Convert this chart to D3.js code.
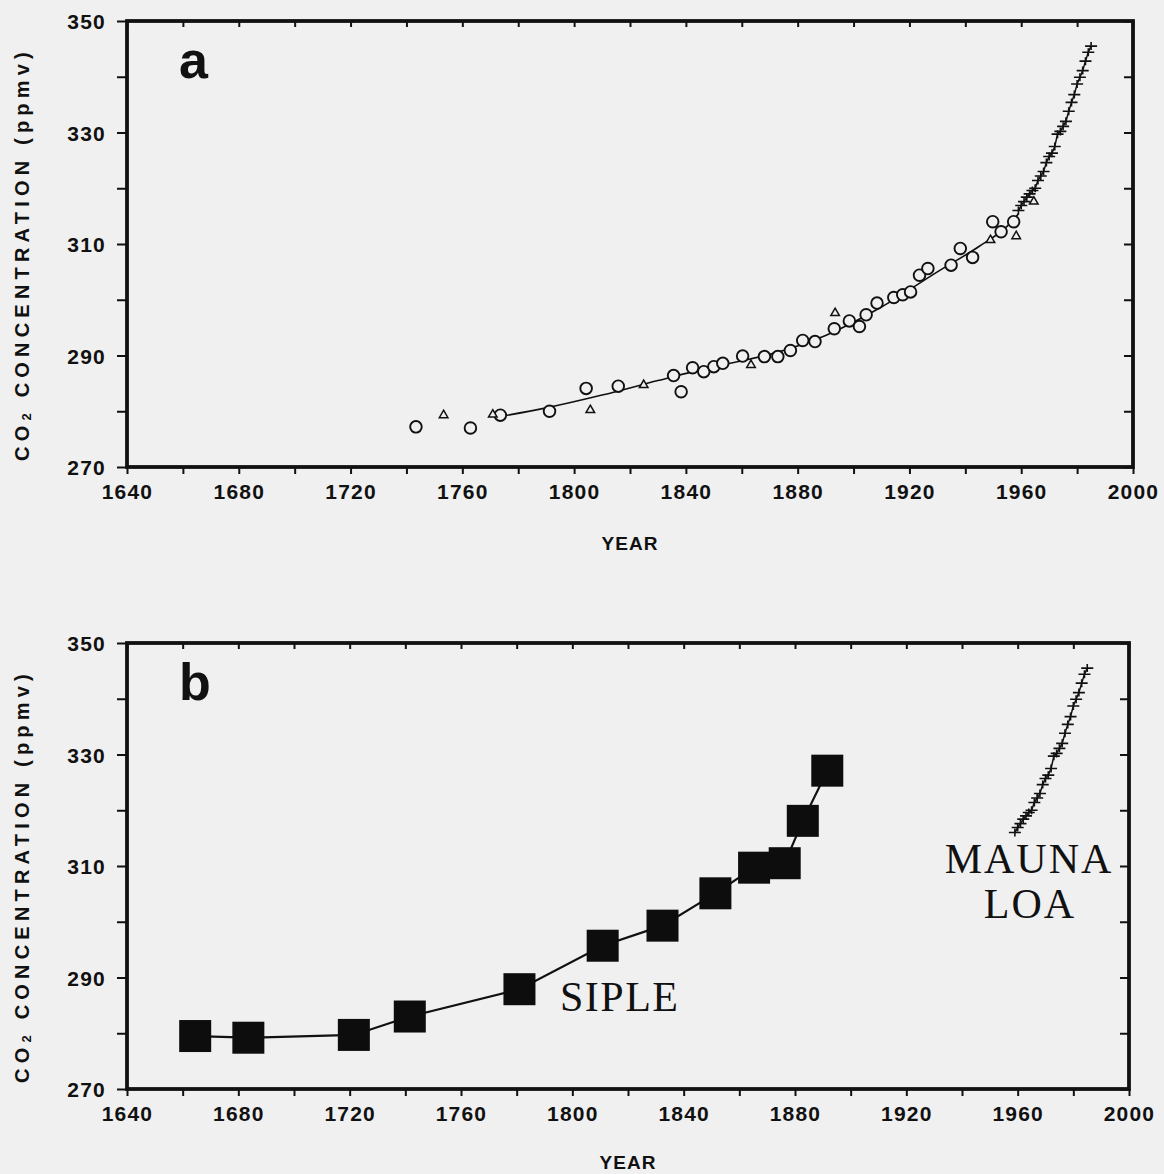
<!DOCTYPE html>
<html>
<head>
<meta charset="utf-8">
<script src="https://cdn.jsdelivr.net/npm/d3@7"></script>
<style>
  body { margin: 0; background: #f0f0f0; }
  svg { display: block; }
</style>
</head>
<body>
<svg width="1164" height="1174"></svg>
<script>
// ice core data (panel a): circles and triangles
const circleYears = [1743.4, 1762.9, 1773.6, 1791.2, 1804.3, 1815.8, 1835.6, 1838.3, 1842.4, 1846.4,
  1850.0, 1853.2, 1860.3, 1868.1, 1872.9, 1877.4, 1881.8, 1886.2, 1893.1, 1898.5, 1902.1, 1904.5,
  1908.4, 1914.4, 1917.6, 1920.4, 1923.6, 1926.6, 1934.9, 1938.2, 1942.6, 1949.8, 1952.8, 1957.3]
const circleValues = [277.2, 277.0, 279.3, 280.0, 284.1, 284.5, 286.4, 283.5, 287.8, 287.1,
  288.0, 288.6, 289.9, 289.8, 289.8, 290.9, 292.7, 292.5, 294.8, 296.2, 295.2, 297.3,
  299.4, 300.4, 300.9, 301.4, 304.4, 305.6, 306.2, 309.2, 307.6, 314.0, 312.2, 314.0]
const triangleYears = [1753.3, 1770.9, 1805.8, 1824.9, 1863.3, 1893.4, 1949.0, 1958.2, 1964.5]
const triangleValues = [279.3, 279.4, 280.2, 284.7, 288.3, 297.6, 310.7, 311.4, 317.6]

// smoothed fit through the ice core record
const fitYears = [1773, 1790, 1810, 1830, 1850, 1870, 1890, 1910, 1930, 1945, 1955, 1959]
const fitValues = [279.0, 280.6, 282.9, 285.5, 288.0, 290.2, 293.6, 298.7, 305.0, 309.6, 313.2, 315.4]

// Mauna Loa annual means
const maunaYears = [1959, 1960, 1961, 1962, 1963, 1964, 1965, 1966, 1967, 1968, 1969, 1970, 1971,
  1972, 1973, 1974, 1975, 1976, 1977, 1978, 1979, 1980, 1981, 1982, 1983, 1984, 1985]
const maunaValues = [316.0, 316.9, 317.6, 318.4, 319.0, 319.6, 320.0, 321.4, 322.2, 323.0, 324.6,
  325.7, 326.3, 327.5, 329.7, 330.2, 331.1, 332.0, 333.8, 335.4, 336.8, 338.7, 339.9, 341.1,
  342.8, 344.4, 345.5]

// Siple station ice core (panel b)
const sipleYears = [1664.5, 1683.6, 1721.5, 1741.6, 1781.0, 1810.9, 1832.4, 1851.4, 1865.3, 1876.3, 1882.8, 1891.6]
const sipleValues = [279.5, 279.2, 279.7, 283.0, 287.9, 295.7, 299.3, 305.1, 309.7, 310.5, 318.1, 327.1]

const xTicks = d3.range(1640, 2001, 20)
const yTicks = d3.range(270, 351, 10)

const svg = d3.select("svg")
svg.append("rect").attr("width", 1164).attr("height", 1174).attr("fill", "#f0f0f0")

const tickFont = "'Liberation Sans', Arial, sans-serif"

function drawPanel(box, letter, yearGap) {
  const x = d3.scaleLinear().domain([1640, 2000]).range([box.left, box.right])
  const y = d3.scaleLinear().domain([270, 350]).range([box.bottom, box.top])
  const g = svg.append("g")

  // axes: labelled outside on left and bottom, plain ticks inside on top and right
  const bottom = g.append("g").attr("transform", "translate(0," + box.bottom + ")")
    .call(d3.axisBottom(x).tickValues(xTicks).tickSize(7).tickSizeOuter(0)
      .tickFormat(d => d % 40 === 0 ? d : ""))
  const left = g.append("g").attr("transform", "translate(" + box.left + ",0)")
    .call(d3.axisLeft(y).tickValues(yTicks).tickSize(10).tickSizeOuter(0)
      .tickFormat(d => (d - 270) % 20 === 0 ? d : ""))
  const top = g.append("g").attr("transform", "translate(0," + box.top + ")")
    .call(d3.axisTop(x).tickValues(xTicks).tickSize(-6).tickSizeOuter(0).tickFormat(""))
  const right = g.append("g").attr("transform", "translate(" + box.right + ",0)")
    .call(d3.axisRight(y).tickValues(yTicks).tickSize(-9).tickSizeOuter(0).tickFormat(""))

  for (const a of [bottom, left, top, right]) {
    a.select(".domain").remove()
    a.selectAll(".tick line").attr("stroke", "#111").attr("stroke-width", 2)
    a.selectAll(".tick text")
      .attr("fill", "#111")
      .style("font-family", tickFont)
      .style("font-weight", "bold")
      .style("font-size", "21px")
      .style("letter-spacing", "1.2px")
  }
  bottom.selectAll(".tick text").attr("y", 17)
  left.selectAll(".tick text").attr("x", -21).attr("dy", "0.36em")

  g.append("rect")
    .attr("x", box.left).attr("y", box.top)
    .attr("width", box.right - box.left).attr("height", box.bottom - box.top)
    .attr("fill", "none").attr("stroke", "#111").attr("stroke-width", 3.8)

  g.append("text")
    .attr("x", box.left + 52).attr("y", box.top + 57)
    .style("font-family", tickFont).style("font-weight", "bold").style("font-size", "52px")
    .attr("fill", "#111")
    .text(letter)

  g.append("text")
    .attr("x", (box.left + box.right) / 2).attr("y", box.bottom + yearGap)
    .attr("text-anchor", "middle")
    .style("font-family", tickFont).style("font-weight", "bold").style("font-size", "19px")
    .style("letter-spacing", "1px")
    .attr("fill", "#111")
    .text("YEAR")

  const yl = g.append("text")
    .attr("transform", "translate(29," + ((box.top + box.bottom) / 2 + 10) + ") rotate(-90)")
    .attr("text-anchor", "middle")
    .style("font-family", tickFont).style("font-weight", "bold").style("font-size", "20px")
    .style("letter-spacing", "5.2px")
    .attr("fill", "#111")
  yl.append("tspan").text("CO")
  yl.append("tspan").attr("font-size", "13px").attr("dy", 2).text("2")
  yl.append("tspan").attr("dy", -2).text(" CONCENTRATION (ppmv)")

  return { g, x, y }
}

function plusMarks(p, years, values) {
  const pts = years.map((d, i) => [p.x(d), p.y(values[i])])
  p.g.append("path")
    .attr("d", d3.line()(pts))
    .attr("fill", "none").attr("stroke", "#111").attr("stroke-width", 1.5)
  p.g.append("g").selectAll("path")
    .data(pts)
    .join("path")
    .attr("d", d => "M" + (d[0] - 6) + "," + d[1] + "h12M" + d[0] + "," + (d[1] - 4) + "v8")
    .attr("stroke", "#111").attr("stroke-width", 1.6).attr("fill", "none")
}

// ---- panel a ----
const pa = drawPanel({ left: 127, right: 1133, top: 21, bottom: 467 }, "a", 83)

pa.g.append("path")
  .attr("d", d3.line().curve(d3.curveMonotoneX)
    .x((d, i) => pa.x(d)).y((d, i) => pa.y(fitValues[i]))(fitYears))
  .attr("fill", "none").attr("stroke", "#111").attr("stroke-width", 1.6)

plusMarks(pa, maunaYears, maunaValues)

pa.g.append("g").selectAll("circle")
  .data(circleYears)
  .join("circle")
  .attr("cx", d => pa.x(d))
  .attr("cy", (d, i) => pa.y(circleValues[i]))
  .attr("r", 5.8)
  .attr("fill", "#f0f0f0").attr("stroke", "#111").attr("stroke-width", 1.9)

const tri = d3.symbol().type(d3.symbolTriangle).size(32)
pa.g.append("g").selectAll("path")
  .data(triangleYears)
  .join("path")
  .attr("transform", (d, i) => "translate(" + pa.x(d) + "," + pa.y(triangleValues[i]) + ")")
  .attr("d", tri)
  .attr("fill", "#f0f0f0").attr("stroke", "#111").attr("stroke-width", 1.5)

// ---- panel b ----
const pb = drawPanel({ left: 127, right: 1129, top: 643, bottom: 1089 }, "b", 80)

pb.g.append("path")
  .attr("d", d3.line().x(d => pb.x(d)).y((d, i) => pb.y(sipleValues[i]))(sipleYears))
  .attr("fill", "none").attr("stroke", "#111").attr("stroke-width", 2.2)

pb.g.append("g").selectAll("rect")
  .data(sipleYears)
  .join("rect")
  .attr("x", d => pb.x(d) - 16)
  .attr("y", (d, i) => pb.y(sipleValues[i]) - 16)
  .attr("width", 32).attr("height", 32)
  .attr("fill", "#0d0d0d")

plusMarks(pb, maunaYears, maunaValues)

const serif = "'Liberation Serif', 'Times New Roman', serif"
pb.g.append("text")
  .attr("x", 560).attr("y", 1011)
  .style("font-family", serif).style("font-size", "42px").style("letter-spacing", "1.5px")
  .attr("fill", "#111")
  .text("SIPLE")

pb.g.append("text")
  .attr("x", 1029).attr("y", 873)
  .attr("text-anchor", "middle")
  .style("font-family", serif).style("font-size", "42px").style("letter-spacing", "2px")
  .attr("fill", "#111")
  .text("MAUNA")
pb.g.append("text")
  .attr("x", 1030).attr("y", 918)
  .attr("text-anchor", "middle")
  .style("font-family", serif).style("font-size", "42px").style("letter-spacing", "2px")
  .attr("fill", "#111")
  .text("LOA")
</script>
</body>
</html>
